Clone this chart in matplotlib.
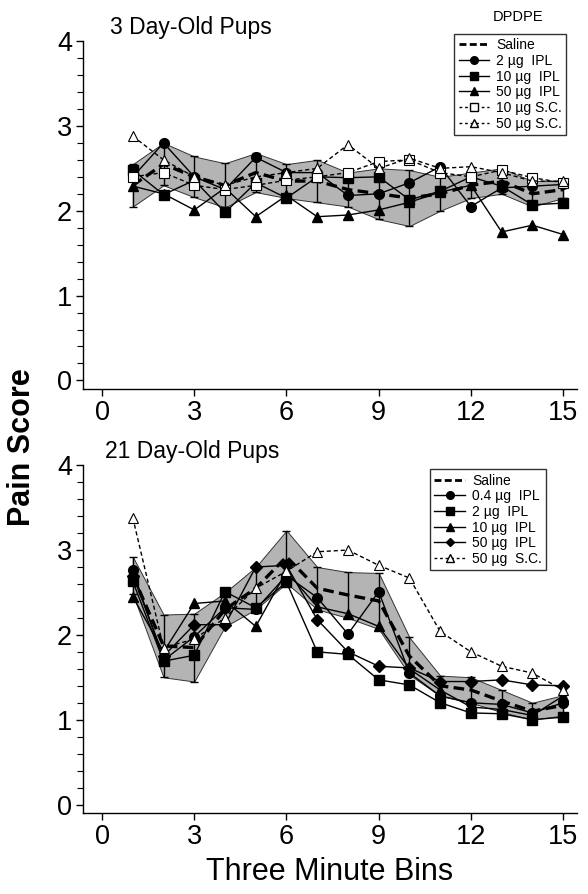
import numpy as np
import matplotlib.pyplot as plt
from matplotlib.lines import Line2D

plt.rcParams['font.family'] = ['Liberation Sans', 'DejaVu Sans']

bins = np.arange(1, 16)

# 3 dias (DPDPE)
top_saline = [2.30, 2.55, 2.40, 2.30, 2.45, 2.35, 2.35, 2.25, 2.20, 2.15, 2.20, 2.30, 2.35, 2.20, 2.25]
top_saline_sem = [0.25, 0.25, 0.24, 0.26, 0.23, 0.20, 0.25, 0.20, 0.30, 0.33, 0.20, 0.15, 0.15, 0.15, 0.10]
top_2ipl = [2.40, 2.80, 2.40, 2.25, 2.63, 2.45, 2.45, 2.18, 2.20, 2.33, 2.52, 2.05, 2.27, 2.29, 2.31]
top_10ipl = [2.48, 2.19, 2.36, 1.98, 2.33, 2.15, 2.40, 2.39, 2.40, 2.13, 2.23, 2.40, 2.29, 2.07, 2.09]
top_50ipl = [2.29, 2.20, 2.01, 2.27, 1.93, 2.18, 1.93, 1.95, 2.01, 2.10, 2.22, 2.30, 1.75, 1.83, 1.72]
top_10sc = [2.40, 2.45, 2.30, 2.25, 2.30, 2.36, 2.40, 2.45, 2.58, 2.60, 2.45, 2.40, 2.48, 2.39, 2.33]
top_50sc = [2.88, 2.60, 2.40, 2.30, 2.40, 2.45, 2.50, 2.78, 2.50, 2.62, 2.50, 2.52, 2.45, 2.35, 2.35]

# 21 dias
bot_saline = [2.70, 1.87, 1.85, 2.30, 2.55, 2.92, 2.55, 2.47, 2.40, 1.75, 1.40, 1.35, 1.22, 1.10, 1.17]
bot_saline_sem = [0.22, 0.37, 0.40, 0.20, 0.25, 0.31, 0.25, 0.27, 0.33, 0.22, 0.12, 0.15, 0.13, 0.10, 0.12]
bot_04ipl = [2.76, 1.70, 1.98, 2.32, 2.30, 2.70, 2.44, 2.01, 2.51, 1.55, 1.28, 1.20, 1.18, 1.08, 1.20]
bot_2ipl = [2.63, 1.69, 1.76, 2.51, 2.32, 2.62, 1.80, 1.77, 1.47, 1.41, 1.20, 1.08, 1.07, 1.00, 1.03]
bot_10ipl = [2.45, 1.80, 2.37, 2.40, 2.10, 2.75, 2.33, 2.25, 2.10, 1.60, 1.35, 1.15, 1.12, 1.05, 1.28]
bot_50ipl = [2.70, 1.75, 2.12, 2.12, 2.80, 2.82, 2.18, 1.80, 1.63, 1.61, 1.45, 1.45, 1.47, 1.41, 1.40]
bot_50sc = [3.38, 1.85, 1.95, 2.20, 2.55, 2.75, 2.98, 3.00, 2.82, 2.67, 2.04, 1.80, 1.63, 1.55, 1.35]

xticks = [0, 3, 6, 9, 12, 15]
yticks = [0, 1, 2, 3, 4]


def draw_saline(ax, mean, sem):
    mean = np.array(mean)
    sem = np.array(sem)
    ax.fill_between(bins, mean - sem, mean + sem, facecolor='#b4b4b4',
                    edgecolor='#333333', lw=0.7, zorder=1)
    ax.errorbar(bins, mean, yerr=sem, fmt='none', ecolor='black',
                elinewidth=1.0, capsize=3, capthick=1.0, zorder=2)
    ax.plot(bins, mean, color='black', lw=2.4, dashes=(3.2, 1.6), zorder=3)


def ipl(ax, y, marker, ms):
    ax.plot(bins, y, color='black', lw=1.0, marker=marker, ms=ms,
            mfc='black', mec='black', zorder=4)


def sc(ax, y, marker, ms):
    ax.plot(bins, y, color='black', lw=1.0, dashes=(3, 2), marker=marker,
            ms=ms, mfc='white', mec='black', mew=0.8, zorder=4)


def style(ax):
    ax.set_xlim(-0.62, 15.45)
    ax.set_ylim(-0.1, 4.0)
    ax.spines['top'].set_visible(False)
    ax.spines['right'].set_visible(False)
    ax.spines['left'].set_linewidth(1.0)
    ax.spines['bottom'].set_linewidth(1.0)
    ax.set_xticks(xticks)
    ax.set_yticks(yticks)
    ax.set_yticks(np.arange(0, 4.01, 0.2), minor=True)
    ax.tick_params(axis='both', which='major', length=5, width=1.0,
                   labelsize=19.5, pad=3)
    ax.tick_params(axis='y', which='minor', length=4, width=0.8)


fig = plt.figure(figsize=(5.88, 8.94), dpi=100)
ax1 = fig.add_axes([0.1412, 0.565, 0.840, 0.389])
ax2 = fig.add_axes([0.1412, 0.0906, 0.840, 0.389])

# panel superior
draw_saline(ax1, top_saline, top_saline_sem)
ipl(ax1, top_2ipl, 'o', 7)
ipl(ax1, top_10ipl, 's', 7)
ipl(ax1, top_50ipl, '^', 7)
sc(ax1, top_10sc, 's', 6.5)
sc(ax1, top_50sc, '^', 7.5)
style(ax1)
ax1.text(0.055, 1.04, '3 Day-Old Pups', transform=ax1.transAxes,
         fontsize=16.5, va='center', ha='left')

h_sal = Line2D([], [], color='black', lw=2.0, dashes=(2.5, 1.2))
h1 = [h_sal,
      Line2D([], [], color='black', lw=1, marker='o', ms=5.5),
      Line2D([], [], color='black', lw=1, marker='s', ms=5.5),
      Line2D([], [], color='black', lw=1, marker='^', ms=5.5),
      Line2D([], [], color='black', lw=1, dashes=(2, 2), marker='s', ms=5.5, mfc='white'),
      Line2D([], [], color='black', lw=1, dashes=(2, 2), marker='^', ms=5.5, mfc='white')]
l1 = ['Saline', '2 µg  IPL', '10 µg  IPL', '50 µg  IPL', '10 µg S.C.', '50 µg S.C.']
leg1 = ax1.legend(h1, l1, loc='upper right', bbox_to_anchor=(0.992, 1.04),
                  fontsize=10, handlelength=2.2, handletextpad=0.5,
                  labelspacing=0.12, borderpad=0.3, frameon=True, fancybox=False)
leg1.get_frame().set_edgecolor('black')
leg1.get_frame().set_linewidth(1.0)
fig.text(0.881, 0.981, 'DPDPE', fontsize=10.5, ha='center', va='center')

# panel inferior
draw_saline(ax2, bot_saline, bot_saline_sem)
ipl(ax2, bot_04ipl, 'o', 7)
ipl(ax2, bot_2ipl, 's', 7)
ipl(ax2, bot_10ipl, '^', 7)
ipl(ax2, bot_50ipl, 'D', 6)
sc(ax2, bot_50sc, '^', 7.5)
style(ax2)
ax2.text(0.045, 1.04, '21 Day-Old Pups', transform=ax2.transAxes,
         fontsize=16.5, va='center', ha='left')

h2 = [h_sal,
      Line2D([], [], color='black', lw=1, marker='o', ms=5.5),
      Line2D([], [], color='black', lw=1, marker='s', ms=5.5),
      Line2D([], [], color='black', lw=1, marker='^', ms=5.5),
      Line2D([], [], color='black', lw=1, marker='D', ms=4.5),
      Line2D([], [], color='black', lw=1, dashes=(2, 2), marker='^', ms=5.5, mfc='white')]
l2 = ['Saline', '0.4 µg  IPL', '2 µg  IPL', '10 µg  IPL', '50 µg  IPL', '50 µg  S.C.']
leg2 = ax2.legend(h2, l2, loc='upper right', bbox_to_anchor=(0.951, 1.008),
                  fontsize=10, handlelength=2.2, handletextpad=0.5,
                  labelspacing=0.12, borderpad=0.3, frameon=True, fancybox=False)
leg2.get_frame().set_edgecolor('black')
leg2.get_frame().set_linewidth(1.0)

fig.text(0.037, 0.5, 'Pain Score', rotation=90, fontsize=22,
         fontweight='bold', ha='center', va='center')
fig.text(0.561, 0.025, 'Three Minute Bins', fontsize=22, ha='center', va='center')

fig.savefig('out.png', dpi=100)
